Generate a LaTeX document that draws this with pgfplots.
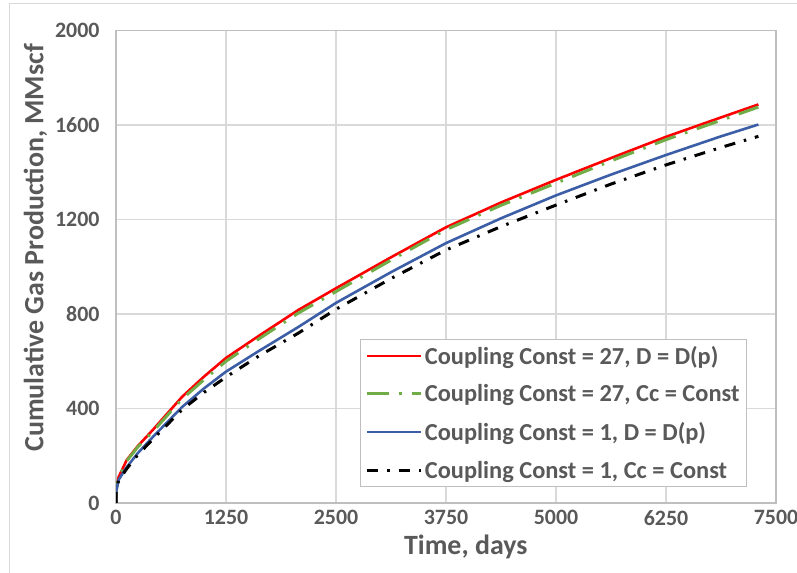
\documentclass[border=0pt]{standalone}
\usepackage{fontspec}
\setmainfont{Carlito}
\usepackage{pgfplots}
\pgfplotsset{compat=1.18}
\definecolor{txt}{HTML}{595959}
\definecolor{gridc}{HTML}{D9D9D9}
\definecolor{axc}{HTML}{BFBFBF}
\definecolor{cred}{HTML}{FF0000}
\definecolor{cgreen}{HTML}{70AD47}
\definecolor{cblue}{HTML}{3B5EA6}
\begin{document}
\begin{tikzpicture}
\useasboundingbox (0,0) rectangle (797bp,573bp);
\draw[gridc, line width=1bp] (9bp,0bp) -- (9bp,569bp) -- (797bp,569bp);
\begin{axis}[
  at={(116bp,70bp)}, anchor=south west,
  width=660bp, height=472.5bp, scale only axis,
  xmin=0, xmax=7500, ymin=0, ymax=2000,
  xtick={0,1250,2500,3750,5000,6250,7500},
  ytick={0,400,800,1200,1600,2000},
  grid=major,
  major grid style={gridc, line width=1.3bp},
  axis line style={axc, line width=1.3bp},
  tick style={draw=none},
  /pgf/number format/assume math mode=true,
  /pgf/number format/set thousands separator={},
  ticklabel style={font=\fontsize{22}{26}\selectfont\bfseries, text=txt},
  yticklabel style={xshift=-13bp},
  xticklabel style={yshift=-5bp, inner sep=2bp},
  xlabel={Time, days},
  ylabel={Cumulative Gas Production, MMscf},
  label style={font=\fontsize{28}{33}\selectfont\bfseries, text=txt, inner sep=1bp},
  xlabel style={at={(axis description cs:0.53,-0.092)}, anchor=center},
  ylabel style={at={(axis description cs:-0.122,0.54)}, anchor=center},
  legend style={at={(1,0)}, anchor=south east, xshift=-29bp, yshift=16bp,
    draw=axc, line width=1bp, fill=white,
    font=\fontsize{24.5}{29}\selectfont\bfseries, text=txt,
    row sep=15bp, inner sep=5bp},
  legend cell align=left,
  legend image code/.code={\draw[#1] (0bp,0bp) -- (54bp,0bp);},
  every axis plot/.append style={line cap=butt, line join=round},
]
\addplot[cred, line width=2.6bp] coordinates {(0,0)(3,60)(30,110)(122,182)(250,242)(420,310)(750,449)(1000,535)(1250,614)(1613,705)(2072,817)(2500,909)(3125,1040)(3750,1167)(4375,1272)(5000,1368)(5625,1460)(6250,1550)(6875,1632)(7300,1687)};
\addlegendentry{Coupling Const = 27, D = D(p)}
\addplot[cgreen, line width=3bp, dash pattern=on 22bp off 10bp on 2.5bp off 10bp] coordinates {(0,0)(3,55)(30,105)(122,178)(250,238)(420,303)(750,440)(1000,522)(1250,600)(1613,692)(2072,804)(2500,895)(3125,1028)(3750,1157)(4375,1260)(5000,1354)(5625,1448)(6250,1538)(6875,1620)(7300,1676)};
\addlegendentry{Coupling Const = 27, Cc = Const}
\addplot[cblue, line width=2.6bp] coordinates {(0,0)(3,50)(30,98)(122,152)(250,212)(420,280)(750,406)(1000,485)(1250,556)(1613,641)(2072,745)(2500,847)(3125,977)(3750,1100)(4375,1205)(5000,1302)(5625,1390)(6250,1473)(6875,1552)(7300,1602)};
\addlegendentry{Coupling Const = 1, D = D(p)}
\addplot[black, line width=3bp, dash pattern=on 11bp off 9bp on 2.5bp off 9bp] coordinates {(0,0)(3,60)(30,95)(122,145)(250,205)(420,270)(750,395)(1000,468)(1250,533)(1613,620)(2072,719)(2500,820)(3125,950)(3750,1071)(4375,1170)(5000,1261)(5625,1350)(6250,1431)(6875,1505)(7300,1552)};
\addlegendentry{Coupling Const = 1, Cc = Const}
\end{axis}
\end{tikzpicture}
\end{document}
